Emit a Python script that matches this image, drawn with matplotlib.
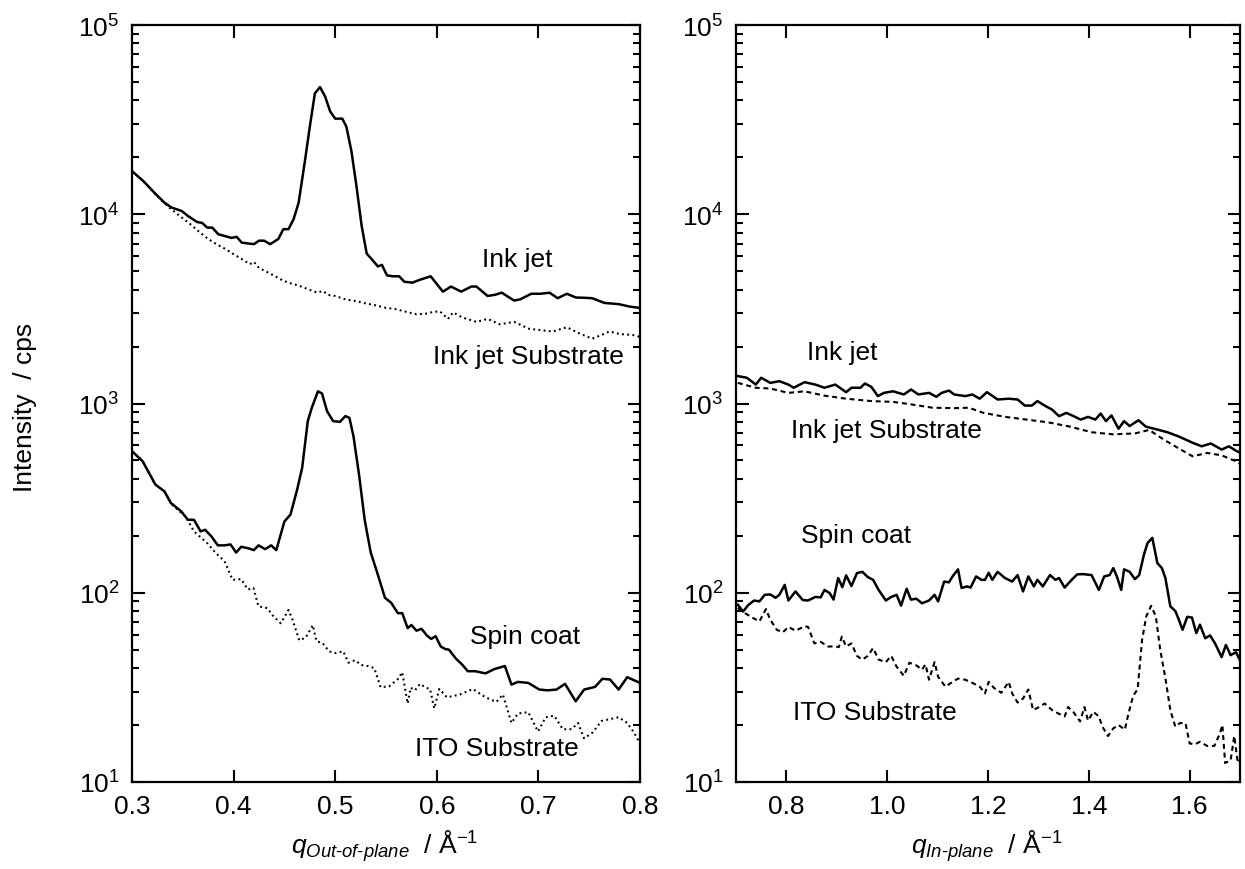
import matplotlib
matplotlib.use("Agg")
import matplotlib.pyplot as plt
from matplotlib.ticker import LogLocator, NullLocator, FixedLocator, FormatStrFormatter

plt.rcParams['font.family'] = ['Liberation Sans', 'DejaVu Sans']
plt.rcParams['mathtext.fontset'] = 'custom'
plt.rcParams['mathtext.rm'] = 'Liberation Sans'
plt.rcParams['mathtext.it'] = 'Liberation Sans:italic'
plt.rcParams['mathtext.default'] = 'regular'

# ---------------- Data: out-of-plane ----------------
q_oop_inkjet = [0.300, 0.311, 0.322, 0.332, 0.339, 0.349, 0.355, 0.364, 0.369, 0.374,
                0.379, 0.385, 0.391, 0.398, 0.403, 0.408, 0.415, 0.420, 0.425, 0.430,
                0.436, 0.444, 0.449, 0.454, 0.459, 0.464, 0.470, 0.475, 0.480, 0.485,
                0.490, 0.495, 0.500, 0.507, 0.511, 0.516, 0.521, 0.526, 0.531, 0.537,
                0.542, 0.546, 0.551, 0.557, 0.563, 0.568, 0.576, 0.583, 0.594, 0.606,
                0.614, 0.624, 0.634, 0.639, 0.650, 0.657, 0.664, 0.676, 0.682, 0.693,
                0.702, 0.711, 0.719, 0.728, 0.737, 0.745, 0.753, 0.765, 0.779, 0.790, 0.800]
I_oop_inkjet = [16900, 15000, 13000, 11500, 10850, 10400, 9800, 9100, 9000, 8500,
                8500, 7840, 7680, 7500, 7600, 7080, 7000, 6950, 7250, 7250,
                6950, 7400, 8340, 8340, 9400, 11500, 18800, 29000, 43500, 47000,
                42000, 35000, 32000, 32000, 29000, 21500, 14000, 8700, 6200, 5700,
                5300, 5400, 4750, 4700, 4700, 4400, 4350, 4500, 4700, 3900,
                4150, 3900, 4150, 4150, 3700, 3750, 3850, 3500, 3550, 3800,
                3800, 3850, 3600, 3800, 3630, 3620, 3600, 3400, 3350, 3250, 3200]

q_oop_inkjet_sub = [0.300, 0.311, 0.320, 0.328, 0.337, 0.347, 0.357, 0.367, 0.375, 0.383,
                    0.392, 0.400, 0.408, 0.416, 0.420, 0.425, 0.433, 0.441, 0.449, 0.457,
                    0.465, 0.474, 0.482, 0.488, 0.493, 0.500, 0.510, 0.520, 0.530, 0.540,
                    0.550, 0.560, 0.570, 0.580, 0.589, 0.597, 0.603, 0.611, 0.616, 0.625,
                    0.639, 0.650, 0.662, 0.676, 0.691, 0.700, 0.714, 0.728, 0.740, 0.753,
                    0.762, 0.770, 0.780, 0.793, 0.800]
I_oop_inkjet_sub = [16900, 15000, 13300, 12000, 10800, 9800, 8900, 8000, 7400, 6950,
                    6550, 6150, 5800, 5450, 5600, 5200, 4950, 4700, 4450, 4300,
                    4180, 4000, 3860, 3930, 3750, 3700, 3550, 3480, 3380, 3300,
                    3200, 3150, 3050, 2960, 2980, 3050, 3070, 2800, 3030, 2850,
                    2700, 2800, 2620, 2700, 2480, 2450, 2400, 2530, 2350, 2200,
                    2300, 2400, 2330, 2300, 2250]

q_oop_spin = [0.300, 0.3105, 0.323, 0.332, 0.338, 0.3485, 0.355, 0.361, 0.3675, 0.372,
              0.378, 0.3845, 0.391, 0.397, 0.4025, 0.4075, 0.414, 0.420, 0.4245, 0.431,
              0.437, 0.442, 0.450, 0.456, 0.4625, 0.4675, 0.473, 0.477, 0.483, 0.487,
              0.492, 0.498, 0.5047, 0.510, 0.514, 0.518, 0.5237, 0.529, 0.535, 0.5405,
              0.549, 0.555, 0.5617, 0.566, 0.5713, 0.575, 0.580, 0.585, 0.5903, 0.5945,
              0.5988, 0.6039, 0.608, 0.612, 0.6186, 0.625, 0.6305, 0.6376, 0.648, 0.6566,
              0.667, 0.6735, 0.6798, 0.690, 0.7009, 0.709, 0.7178, 0.7262, 0.7367, 0.745,
              0.7557, 0.763, 0.7705, 0.779, 0.7874, 0.800]
I_oop_spin = [560, 495, 373, 343, 299, 269, 243, 243, 211, 215,
              199, 178, 178, 180, 163, 175, 172, 168, 178, 170,
              178, 168, 238, 259, 350, 458, 807, 950, 1160, 1130,
              910, 807, 800, 858, 840, 671, 412, 243, 163, 132,
              94, 88.6, 78, 78, 65, 67.6, 63, 64.5, 59.4, 57,
              59, 52, 50.5, 50, 45, 41.7, 38.5, 38.5, 37.5, 39.5,
              41, 32.7, 33.8, 33.4, 30.8, 30.5, 30.8, 33, 26.7, 30.8,
              31.8, 35.1, 34.8, 30.8, 35.8, 33.4]

q_oop_ito = [0.300, 0.3105, 0.323, 0.332, 0.340, 0.3527, 0.361, 0.374, 0.382, 0.391,
             0.399, 0.4075, 0.414, 0.4195, 0.4245, 0.433, 0.4392, 0.4464, 0.454, 0.458,
             0.4646, 0.471, 0.478, 0.4815, 0.4878, 0.494, 0.500, 0.508, 0.513, 0.5194,
             0.5258, 0.532, 0.5384, 0.5447, 0.553, 0.5617, 0.566, 0.5713, 0.5743, 0.5785,
             0.5835, 0.589, 0.5933, 0.5975, 0.6025, 0.610, 0.6228, 0.6355, 0.648, 0.6587,
             0.665, 0.6735, 0.6798, 0.690, 0.6996, 0.7072, 0.7156, 0.724, 0.7325, 0.739,
             0.745, 0.7536, 0.762, 0.7705, 0.779, 0.7874, 0.794, 0.800]
I_oop_ito = [560, 495, 373, 343, 290, 253, 211, 183, 163, 147,
             117, 118, 104, 106, 84.7, 83, 75, 69, 81, 72,
             56, 58, 67.4, 55.5, 54, 49, 48, 49, 42.7, 44,
             41.5, 41, 40, 31.7, 32, 35, 38, 26, 31.5, 30.5,
             33, 31.5, 31, 24.5, 31, 28, 29, 31, 28, 26.5,
             29, 20.5, 23, 23.4, 18.5, 22, 22.4, 19, 19, 20.5,
             17, 18.3, 21, 21.5, 22, 20.5, 18.3, 16]

# ---------------- Data: in-plane ----------------
q_ip_inkjet = [0.7035, 0.7214, 0.7393, 0.750, 0.768, 0.786, 0.804, 0.8145, 0.836, 0.8575,
               0.8755, 0.897, 0.9185, 0.929, 0.947, 0.9557, 0.9685, 0.9815, 0.9936, 1.0115,
               1.033, 1.0474, 1.0618, 1.083, 1.0975, 1.108, 1.1225, 1.133, 1.155, 1.169,
               1.1835, 1.198, 1.219, 1.241, 1.2587, 1.273, 1.287, 1.298, 1.3124, 1.327,
               1.341, 1.3554, 1.37, 1.384, 1.3985, 1.413, 1.4235, 1.434, 1.445, 1.459,
               1.47, 1.481, 1.4987, 1.513, 1.5345, 1.556, 1.5775, 1.592, 1.606, 1.624,
               1.642, 1.6635, 1.678, 1.692, 1.700]
I_ip_inkjet = [1396, 1368, 1259, 1368, 1285, 1312, 1259, 1211, 1296, 1259,
               1211, 1259, 1148, 1211, 1211, 1275, 1225, 1094, 1138, 1160,
               1116, 1186, 1116, 1138, 1085, 1138, 1170, 1116, 1094, 1116,
               1060, 1148, 1050, 1060, 1050, 975, 975, 1030, 975, 929,
               857, 892, 857, 822, 850, 822, 885, 807, 865, 735,
               807, 760, 816, 755, 730, 705, 671, 645, 620, 594,
               615, 571, 594, 563, 550]

q_ip_inkjet_sub = [0.7035, 0.7393, 0.768, 0.804, 0.836, 0.8755, 0.9185, 0.9685, 1.0115, 1.047,
                   1.090, 1.133, 1.162, 1.191, 1.234, 1.2765, 1.3196, 1.3625, 1.4055, 1.4485,
                   1.4915, 1.520, 1.5486, 1.577, 1.606, 1.635, 1.6635, 1.692, 1.700]
I_ip_inkjet_sub = [1285, 1211, 1200, 1138, 1160, 1100, 1060, 1030, 1020, 990,
                   950, 945, 950, 892, 850, 822, 795, 755, 705, 687,
                   695, 725, 645, 582, 526, 548, 532, 495, 480]

q_ip_spin = [0.7035, 0.714, 0.725, 0.736, 0.7465, 0.757, 0.768, 0.7785, 0.786, 0.7966,
             0.804, 0.818, 0.8325, 0.843, 0.8575, 0.868, 0.8755, 0.886, 0.8935, 0.9027,
             0.911, 0.9185, 0.929, 0.940, 0.9507, 0.9615, 0.972, 0.983, 0.9973, 1.008,
             1.0186, 1.0275, 1.0386, 1.047, 1.058, 1.069, 1.083, 1.094, 1.101, 1.113,
             1.1225, 1.1297, 1.1405, 1.1475, 1.1585, 1.1655, 1.1763, 1.187, 1.194, 1.2014,
             1.2086, 1.219, 1.2337, 1.248, 1.2587, 1.2695, 1.28, 1.291, 1.298, 1.3088,
             1.323, 1.334, 1.341, 1.352, 1.366, 1.377, 1.3877, 1.4055, 1.42, 1.4306,
             1.4414, 1.4485, 1.4557, 1.4643, 1.47, 1.481, 1.4915, 1.500, 1.5094, 1.5165,
             1.526, 1.536, 1.545, 1.552, 1.5617, 1.5717, 1.5775, 1.586, 1.5954, 1.6047,
             1.6133, 1.6205, 1.631, 1.6405, 1.6505, 1.6635, 1.672, 1.6813, 1.692, 1.700]
I_ip_spin = [86.5, 79.6, 86.5, 91, 90, 97.5, 98, 94, 97.5, 110,
             91, 101.6, 91.5, 91, 95, 94.5, 103.5, 99.5, 92, 119.6,
             107, 123.6, 108.5, 127, 129, 121, 117, 103.5, 91, 95,
             97.5, 85.5, 105, 92, 93, 88, 91, 97.5, 90, 114.6,
             113.5, 122, 133, 106, 108, 106.5, 122, 117, 117, 127.5,
             117, 129, 119.6, 114.6, 124, 101.6, 122, 108, 117, 108,
             124, 117, 119.6, 106.5, 117, 125, 125.5, 124, 103.5, 122,
             124, 135, 122, 103.5, 133, 129, 118, 124, 159, 183,
             195, 143.5, 135, 119.6, 84.8, 80, 73.4, 63.7, 74.6, 74,
             61.2, 67.8, 57.5, 59.5, 54, 45.7, 53, 46.8, 48.5, 44]

q_ip_ito = [0.7035, 0.718, 0.732, 0.7465, 0.7594, 0.768, 0.781, 0.793, 0.804, 0.818,
            0.836, 0.843, 0.8555, 0.868, 0.8826, 0.897, 0.904, 0.910, 0.9185, 0.929,
            0.940, 0.9507, 0.9615, 0.972, 0.983, 0.9973, 1.008, 1.0186, 1.033, 1.044,
            1.058, 1.069, 1.076, 1.083, 1.094, 1.101, 1.1155, 1.1297, 1.1405, 1.155,
            1.169, 1.1835, 1.194, 1.2014, 1.212, 1.2265, 1.241, 1.248, 1.2587, 1.2695,
            1.280, 1.2895, 1.3016, 1.3124, 1.327, 1.341, 1.352, 1.359, 1.370, 1.3827,
            1.3913, 1.3985, 1.409, 1.420, 1.427, 1.438, 1.4485, 1.459, 1.4715, 1.4787,
            1.488, 1.497, 1.5057, 1.514, 1.5237, 1.533, 1.5417, 1.5525, 1.5617, 1.5717,
            1.581, 1.592, 1.600, 1.6097, 1.6205, 1.635, 1.649, 1.660, 1.665, 1.6705,
            1.6813, 1.6886, 1.6957, 1.700]
I_ip_ito = [83, 78, 74, 70.6, 82, 72, 63.7, 61.8, 66, 63,
            66.5, 66, 54, 55, 52, 52, 51.6, 58.7, 52, 54,
            46.4, 44.3, 46.4, 51, 44.3, 43, 46.4, 40.7, 36.4, 42.7,
            41.3, 39.2, 41.8, 34.7, 43, 36, 31.9, 33.8, 35.2, 34.7,
            33.4, 31.9, 29.4, 33.8, 31.4, 29.6, 33.8, 29.4, 26.3, 27.6,
            30.8, 24, 24.9, 26, 24, 22.9, 22.2, 24.9, 23.3, 20.9,
            24.9, 21.1, 23.5, 22.2, 19.6, 17.5, 19.2, 20, 18.9, 23,
            28.5, 31, 56.4, 75, 85.3, 75, 50, 34.7, 24, 19.6,
            20.5, 20.4, 16, 15.8, 16.3, 15.5, 15.5, 18, 20, 12.6,
            13, 17.5, 12.6, 13]

oop_xticks = [0.3, 0.4, 0.5, 0.6, 0.7, 0.8]
ip_xticks = [0.8, 1.0, 1.2, 1.4, 1.6]

# ---------------- Figure ----------------
W, H = 1245, 870
fig = plt.figure(figsize=(W / 100, H / 100), dpi=100)
ax1 = fig.add_axes([132 / W, 87 / H, 508 / W, 757 / H])
ax2 = fig.add_axes([736 / W, 87 / H, 504 / W, 757 / H])

lw = 1.8
lw_sub = 1.5
dotted = (0, (0.9, 1.6))
dashed = (0, (2.4, 1.8))

ax1.plot(q_oop_inkjet, I_oop_inkjet, color='black', lw=lw)
ax1.plot(q_oop_inkjet_sub, I_oop_inkjet_sub, color='black', lw=lw_sub, linestyle=dotted)
ax1.plot(q_oop_spin, I_oop_spin, color='black', lw=lw)
ax1.plot(q_oop_ito, I_oop_ito, color='black', lw=lw_sub, linestyle=dotted)

ax2.plot(q_ip_inkjet, I_ip_inkjet, color='black', lw=lw)
ax2.plot(q_ip_inkjet_sub, I_ip_inkjet_sub, color='black', lw=lw_sub, linestyle=dashed)
ax2.plot(q_ip_spin, I_ip_spin, color='black', lw=lw)
ax2.plot(q_ip_ito, I_ip_ito, color='black', lw=lw_sub, linestyle=dashed)

for ax, xl, xt, fmt in [(ax1, (0.3, 0.8), oop_xticks, '%.1f'),
                        (ax2, (0.7, 1.7), ip_xticks, '%.1f')]:
    ax.set_yscale('log')
    ax.set_ylim(10, 1e5)
    ax.set_xlim(*xl)
    ax.xaxis.set_major_locator(FixedLocator(xt))
    ax.xaxis.set_major_formatter(FormatStrFormatter(fmt))
    ax.xaxis.set_minor_locator(NullLocator())
    ax.yaxis.set_major_locator(LogLocator(base=10, numticks=10))
    ax.yaxis.set_minor_locator(LogLocator(base=10, subs=range(2, 10), numticks=20))
    ax.tick_params(which='both', direction='in', top=True, right=True,
                   width=1.5, labelsize=19, colors='black')
    ax.tick_params(which='major', length=9, pad=9)
    ax.tick_params(which='minor', length=5)
    for s in ax.spines.values():
        s.set_linewidth(1.6)

fs = 19
ax1.text(0.758, 0.691, 'Ink jet', transform=ax1.transAxes, ha='center', va='center', fontsize=fs)
ax1.text(0.780, 0.563, 'Ink jet Substrate', transform=ax1.transAxes, ha='center', va='center', fontsize=fs)
ax1.text(0.774, 0.193, 'Spin coat', transform=ax1.transAxes, ha='center', va='center', fontsize=fs)
ax1.text(0.718, 0.045, 'ITO Substrate', transform=ax1.transAxes, ha='center', va='center', fontsize=fs)

ax2.text(0.210, 0.568, 'Ink jet', transform=ax2.transAxes, ha='center', va='center', fontsize=fs)
ax2.text(0.298, 0.465, 'Ink jet Substrate', transform=ax2.transAxes, ha='center', va='center', fontsize=fs)
ax2.text(0.238, 0.326, 'Spin coat', transform=ax2.transAxes, ha='center', va='center', fontsize=fs)
ax2.text(0.276, 0.0925, 'ITO Substrate', transform=ax2.transAxes, ha='center', va='center', fontsize=fs)

fig.text(25 / W, 1 - 407 / H, 'Intensity  / cps', rotation=90, ha='center', va='center', fontsize=fs)
fig.text(385 / W, 1 - 846 / H, '$\\mathit{q}_{\\mathit{Out\u2010of\u2010plane}}$  / Å$^{-1}$',
         ha='center', va='center', fontsize=fs)
fig.text(987 / W, 1 - 846 / H, '$\\mathit{q}_{\\mathit{In\u2010plane}}$  / Å$^{-1}$',
         ha='center', va='center', fontsize=fs)

fig.savefig('out.png', dpi=100)
